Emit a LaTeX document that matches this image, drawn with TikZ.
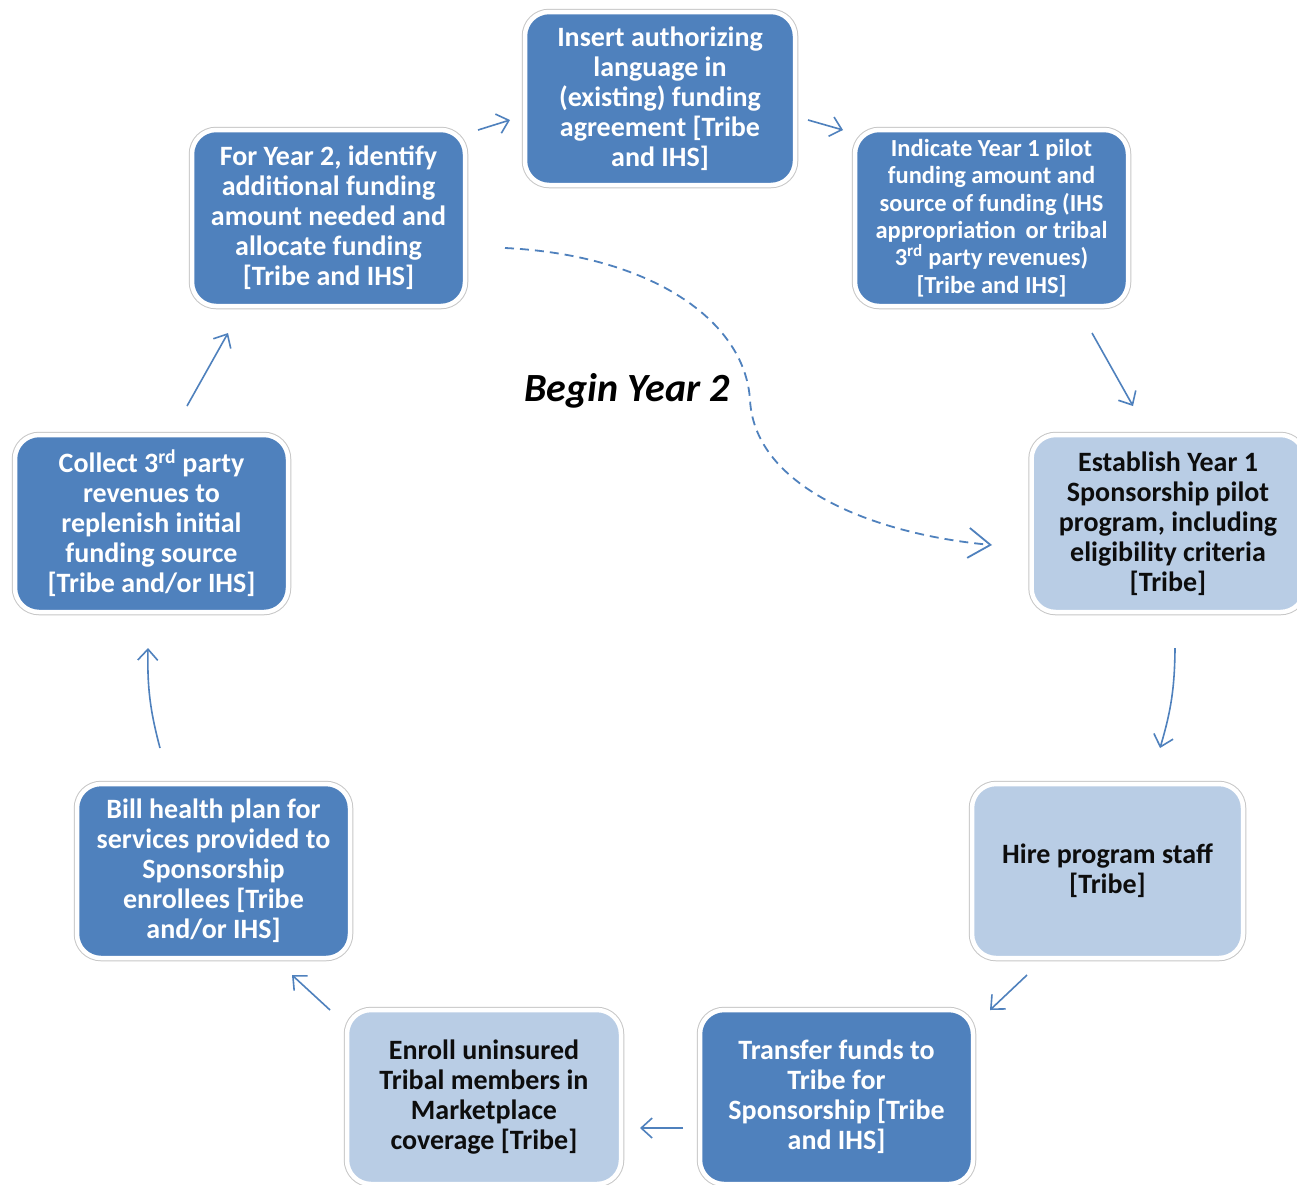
\documentclass[tikz,border=0pt]{standalone}
\usepackage{fontspec}
\setmainfont{Carlito}
\usetikzlibrary{arrows.meta,calc}
\definecolor{darkbox}{HTML}{4F81BD}
\definecolor{lightbox}{HTML}{B9CDE5}
\definecolor{arrowc}{HTML}{4F81BD}
\tikzset{
  stepbox/.style={rectangle, rounded corners=24pt, minimum width=#1, inner sep=0pt,
    align=center, font=\bfseries\fontsize{28}{30}\selectfont,
    preaction={draw=black!22, line width=6.5pt},
    draw=white, line width=4.5pt},
  darkstep/.style={stepbox=#1, fill=darkbox, text=white},
  lightstep/.style={stepbox=#1, fill=lightbox, text=black!95},
  flow/.style={draw=arrowc, line width=1.6pt, -{Straight Barb[length=11pt,width=20pt,line width=1.6pt]}},
  dflow/.style={draw=arrowc, line width=1.8pt, dash pattern=on 9pt off 6pt,
    -{Straight Barb[length=22pt,width=30pt,line width=1.8pt]}},
}
\begin{document}
\begin{tikzpicture}[x=1pt,y=-1pt]
\useasboundingbox (0,0) rectangle (1297,1184);
\fill[white] (0,0) rectangle (1297,1184);
\clip (0,0) rectangle (1297,1184);

\node[darkstep=270pt, minimum height=173pt] (n1) at (660,98.5)
  {Insert authorizing\\language in\\(existing) funding\\agreement [Tribe\\and IHS]};
\node[darkstep=273pt, minimum height=176pt, font=\bfseries\fontsize{24.5}{27.4}\selectfont] (n2) at (991.5,218)
  {Indicate Year 1 pilot\\funding amount and\\source of funding (IHS\\appropriation\, or tribal\\3\textsuperscript{rd} party revenues)\\{}[Tribe and IHS]};
\node[lightstep=273pt, minimum height=177pt] (n3) at (1168,523.5)
  {Establish Year 1\\Sponsorship pilot\\program, including\\eligibility criteria\\{}[Tribe]};
\node[lightstep=271pt, minimum height=174pt] (n4) at (1107.5,871)
  {Hire program staff\\{}[Tribe]};
\node[darkstep=273pt, minimum height=174pt] (n5) at (836.5,1097)
  {Transfer funds to\\Tribe for\\Sponsorship [Tribe\\and IHS]};
\node[lightstep=274pt, minimum height=174pt] (n6) at (484,1097)
  {Enroll uninsured\\Tribal members in\\Marketplace\\coverage [Tribe]};
\node[darkstep=273pt, minimum height=174pt] (n7) at (213.5,871)
  {Bill health plan for\\services provided to\\Sponsorship\\enrollees [Tribe\\and/or IHS]};
\node[darkstep=273pt, minimum height=177pt] (n8) at (151.5,523.5)
  {Collect 3\textsuperscript{rd} party\\revenues to\\replenish initial\\funding source\\{}[Tribe and/or IHS]};
\node[darkstep=273pt, minimum height=176pt] (n9) at (328.5,218)
  {For Year 2, identify\\additional funding\\amount needed and\\allocate funding\\{}[Tribe and IHS]};

\node[font=\bfseries\itshape\fontsize{40}{44}\selectfont, inner sep=0pt] (begin) at (627,391) {Begin Year 2};

% connectors
\coordinate (a9s) at (478,130); \coordinate (a9e) at (510,120);
\coordinate (a1s) at (808,120); \coordinate (a1e) at (843,130);
\coordinate (a2s) at (1092,333); \coordinate (a2e) at (1133,406);
\coordinate (a3s) at (1175,648); \coordinate (a3e) at (1160,748);
\coordinate (a4s) at (1027,975); \coordinate (a4e) at (990,1010);
\coordinate (a5s) at (683,1128); \coordinate (a5e) at (640,1128);
\coordinate (a6s) at (330,1010); \coordinate (a6e) at (292,975);
\coordinate (a7s) at (160,748); \coordinate (a7e) at (148,648);
\coordinate (a8s) at (187,406); \coordinate (a8e) at (228,333);
\coordinate (ds) at (505,248); \coordinate (dm) at (750,400); \coordinate (de) at (992,545);

\draw[flow] (a9s) -- (a9e);
\draw[flow] (a1s) -- (a1e);
\draw[flow] (a2s) -- (a2e);
\draw[flow] (a3s) to[bend left=8] (a3e);
\draw[flow] (a4s) -- (a4e);
\draw[flow] (a5s) -- (a5e);
\draw[flow] (a6s) -- (a6e);
\draw[flow] (a7s) to[bend left=8] (a7e);
\draw[flow] (a8s) -- (a8e);
\draw[dflow] (ds) .. controls (650,255) and (745,320) .. (dm)
  .. controls (755,490) and (880,535) .. (de);
\end{tikzpicture}
\end{document}
